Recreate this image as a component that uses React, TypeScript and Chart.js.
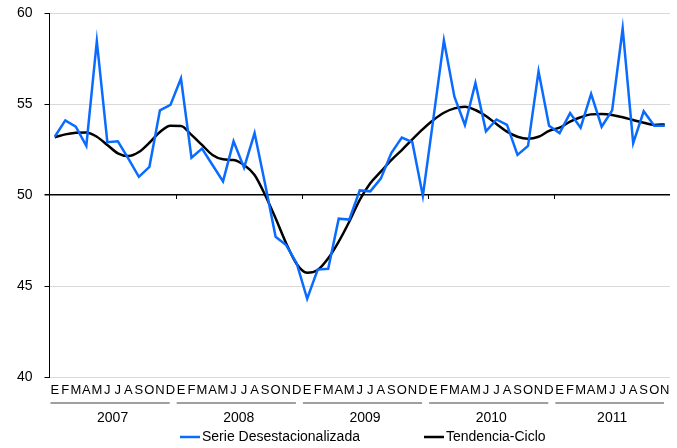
import React, { useEffect, useRef } from "react";
import { Chart, registerables } from "chart.js";

Chart.register(...registerables);

const monthLetters = ["E", "F", "M", "A", "M", "J", "J", "A", "S", "O", "N", "D"];
const years = ["2007", "2008", "2009", "2010", "2011"];
const monthsPerYear = [12, 12, 12, 12, 11];

const categories: string[] = [];
years.forEach((y, yi) => {
  for (let m = 0; m < monthsPerYear[yi]; m++) categories.push(monthLetters[m]);
});

const serieDesestacionalizada = [
  53.2, 54.1, 53.75, 52.7, 58.45, 52.9, 52.95, 52.0, 51.0, 51.55, 54.65, 54.95,
  56.4, 52.05, 52.55, 51.65, 50.75, 52.95, 51.5, 53.4, 50.6, 47.7, 47.25, 46.25,
  44.3, 45.9, 45.95, 48.7, 48.65, 50.25, 50.2, 50.9, 52.3, 53.15, 52.9, 49.95,
  54.2, 58.5, 55.4, 53.85, 56.15, 53.5, 54.15, 53.85, 52.2, 52.7, 56.8, 53.8,
  53.4, 54.5, 53.7, 55.55, 53.75, 54.65, 59.15, 52.85, 54.6, 53.8, 53.8,
];

const tendenciaCiclo = [
  53.17, 53.33, 53.42, 53.44, 53.2, 52.75, 52.29, 52.14, 52.36, 52.87, 53.46, 53.8,
  53.79, 53.3, 52.75, 52.2, 51.96, 51.92, 51.65, 51.1, 50.0, 48.72, 47.35, 46.21,
  45.73, 45.88, 46.52, 47.44, 48.53, 49.73, 50.64, 51.28, 51.92, 52.47, 53.06, 53.62,
  54.12, 54.52, 54.76, 54.85, 54.67, 54.34, 53.9, 53.48, 53.2, 53.09, 53.2, 53.52,
  53.7, 54.03, 54.27, 54.43, 54.45, 54.4, 54.27, 54.12, 53.97, 53.85, 53.88,
];

const seriesNames = ["Serie Desestacionalizada", "Tendencia-Ciclo"];
const yTicks = [40, 45, 50, 55, 60];

const FONT = "'Liberation Sans', Arial, sans-serif";

const decorPlugin = {
  id: "decor",
  afterDraw(chart: any) {
    const ctx = chart.ctx;
    const x = chart.scales.x;
    const y = chart.scales.y;
    const y50 = y.getPixelForValue(50);
    const half = (x.getPixelForValue(1) - x.getPixelForValue(0)) / 2;
    ctx.save();
    let idx = 0;
    const bounds: number[] = [];
    monthsPerYear.forEach((n) => {
      bounds.push(x.getPixelForValue(idx) - half);
      idx += n;
    });
    bounds.push(x.getPixelForValue(idx - 1) + half);
    ctx.strokeStyle = "#000";
    ctx.lineWidth = 1;
    for (let i = 1; i < bounds.length - 1; i++) {
      ctx.beginPath();
      ctx.moveTo(Math.round(bounds[i]) + 0.5, y50);
      ctx.lineTo(Math.round(bounds[i]) + 0.5, y50 + 4);
      ctx.stroke();
    }
    ctx.font = `14px ${FONT}`;
    ctx.fillStyle = "#000";
    ctx.textAlign = "center";
    ctx.textBaseline = "middle";
    years.forEach((yr, i) => {
      const a = bounds[i];
      const b = bounds[i + 1];
      ctx.strokeStyle = "#7f7f7f";
      ctx.lineWidth = 1.5;
      ctx.beginPath();
      ctx.moveTo(a + 1, 403);
      ctx.lineTo(b - 6, 403);
      ctx.stroke();
      ctx.fillText(yr, (a + b) / 2, 418);
    });
    const items = [
      { name: seriesNames[0], color: "#0A6CFF", x0: 180 },
      { name: seriesNames[1], color: "#000000", x0: 424 },
    ];
    ctx.textAlign = "left";
    items.forEach((it) => {
      ctx.strokeStyle = it.color;
      ctx.lineWidth = 2.5;
      ctx.beginPath();
      ctx.moveTo(it.x0, 437);
      ctx.lineTo(it.x0 + 20, 437);
      ctx.stroke();
      ctx.fillStyle = "#000";
      ctx.fillText(it.name, it.x0 + 22, 437.5);
    });
    ctx.restore();
  },
};

export default function App() {
  const ref = useRef<HTMLCanvasElement>(null);
  useEffect(() => {
    if (!ref.current) return;
    const chart = new Chart(ref.current, {
      type: "line",
      data: {
        labels: categories,
        datasets: [
          {
            label: seriesNames[0],
            data: serieDesestacionalizada,
            borderColor: "#0A6CFF",
            backgroundColor: "#0A6CFF",
            borderWidth: 2.5,
            pointRadius: 0,
            tension: 0,
          },
          {
            label: seriesNames[1],
            data: tendenciaCiclo,
            borderColor: "#000000",
            backgroundColor: "#000000",
            borderWidth: 2.5,
            pointRadius: 0,
            tension: 0.4,
            cubicInterpolationMode: "monotone",
          },
        ],
      },
      options: {
        animation: false,
        responsive: false,
        devicePixelRatio: 1,
        layout: { padding: { top: 13, right: 7, left: 0, bottom: 0 } },
        plugins: { legend: { display: false }, tooltip: { enabled: false } },
        scales: {
          x: {
            offset: true,
            grid: { display: false, drawTicks: false },
            border: { display: false },
            ticks: {
              autoSkip: false,
              maxRotation: 0,
              minRotation: 0,
              padding: 6,
              color: "#000",
              font: { family: FONT, size: 13 },
            },
            afterFit: (s: any) => {
              s.height = 71;
              s.paddingLeft = 0;
              s.paddingRight = 0;
            },
          },
          y: {
            min: 40,
            max: 60,
            afterBuildTicks: (s: any) => {
              s.ticks = yTicks.map((v) => ({ value: v }));
            },
            grid: {
              color: (c: any) => (c.tick && c.tick.value === 50 ? "#000000" : "#d9d9d9"),
              lineWidth: (c: any) => (c.tick && c.tick.value === 50 ? 1.5 : 1),
              tickColor: "#000",
              tickLength: 5,
            },
            border: { display: true, color: "#000", width: 1 },
            ticks: {
              padding: 12,
              color: "#000",
              font: { family: FONT, size: 14 },
            },
            afterFit: (s: any) => {
              s.width = 49.5;
              s.paddingTop = 0;
              s.paddingBottom = 0;
            },
          },
        },
      },
      plugins: [decorPlugin],
    });
    return () => chart.destroy();
  }, []);
  return (
    <div style={{ position: "fixed", left: 0, top: 0, width: 677, height: 448, background: "#fff" }}>
      <canvas ref={ref} width={677} height={448} style={{ width: 677, height: 448 }} />
    </div>
  );
}
